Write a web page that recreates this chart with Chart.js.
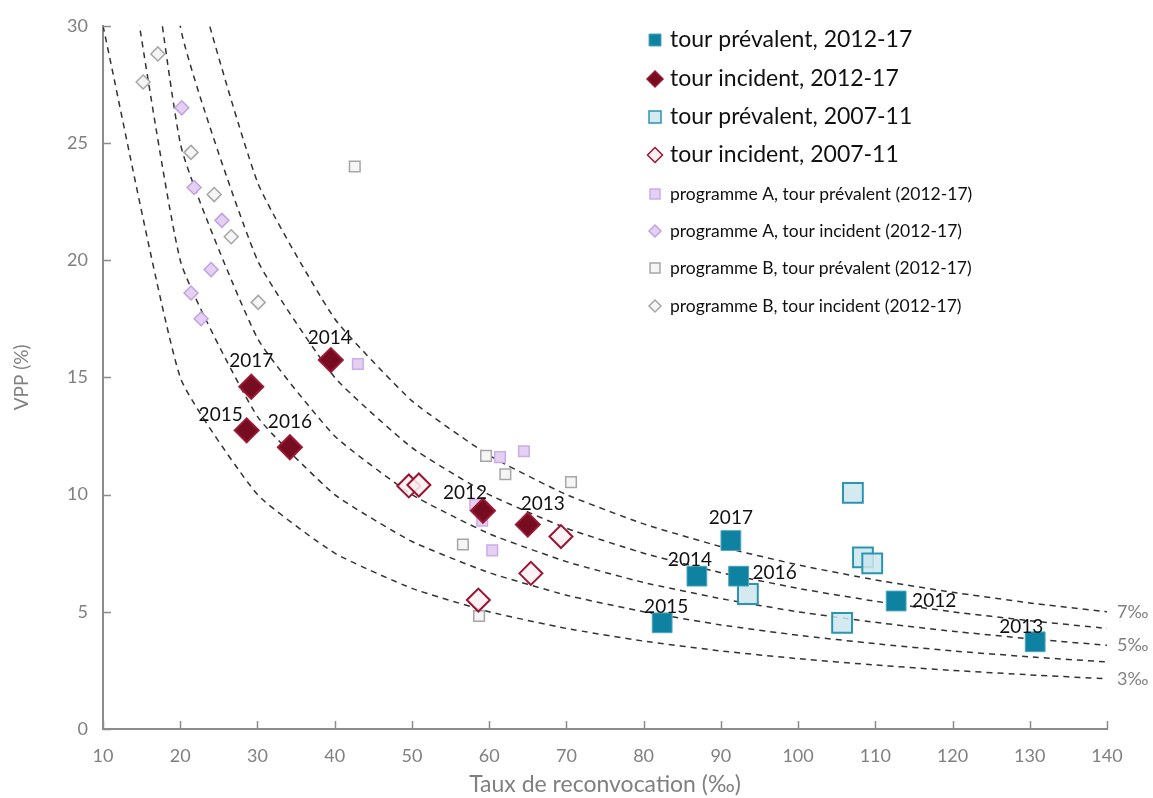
<!DOCTYPE html>
<html lang="fr">
<head>
<meta charset="UTF-8">
<title>VPP et taux de reconvocation</title>
<script src="https://cdn.jsdelivr.net/npm/chart.js"></script>
<style>
    html, body { margin: 0; padding: 0; background: #fff; }
    #wrap { width: 1153px; height: 798px; position: relative; }
</style>
</head>
<body>
<div id="wrap"><canvas id="chart" width="1153" height="798"></canvas></div>
<script>
// Années des tours 2012-17
const years = ['2012', '2013', '2014', '2015', '2016', '2017'];

// tour prévalent, 2012-17 (dans l'ordre des années)
const prev1217X = [112.7, 130.7, 86.9, 82.4, 92.3, 91.3];
const prev1217Y = [5.46, 3.72, 6.52, 4.53, 6.52, 8.04];
// tour incident, 2012-17
const inc1217X = [59.2, 65.0, 39.5, 28.6, 34.2, 29.2];
const inc1217Y = [9.31, 8.72, 15.74, 12.74, 12.02, 14.6];
// tour prévalent, 2007-11
const prev0711X = [107.1, 108.4, 109.6, 93.5, 105.7];
const prev0711Y = [10.07, 7.32, 7.07, 5.76, 4.53];
// tour incident, 2007-11
const inc0711X = [49.6, 50.9, 69.3, 65.4, 58.6];
const inc0711Y = [10.37, 10.41, 8.21, 6.64, 5.5];
// programme A
const progAPrevX = [43.0, 61.4, 64.5, 58.2, 59.1, 60.4];
const progAPrevY = [15.57, 11.6, 11.85, 9.56, 8.89, 7.62];
const progAIncX = [20.2, 21.8, 25.4, 24.0, 21.4, 22.7];
const progAIncY = [26.5, 23.1, 21.7, 19.6, 18.6, 17.5];
// programme B
const progBPrevX = [42.6, 59.6, 62.1, 70.6, 56.6, 58.7];
const progBPrevY = [24.0, 11.65, 10.87, 10.53, 7.87, 4.82];
const progBIncX = [17.1, 15.2, 21.4, 24.4, 26.6, 30.1];
const progBIncY = [28.8, 27.6, 24.6, 22.8, 21.0, 18.2];

// Courbes de taux de détection constant (‰)
const isoX = [10, 20, 30, 40, 50, 60, 70, 80, 90, 100, 110, 120, 130, 140];
const iso3 = [30, 15, 10, 7.5, 6, 5, 4.29, 3.75, 3.33, 3, 2.73, 2.5, 2.31, 2.14];
const iso4 = [40, 20, 13.33, 10, 8, 6.67, 5.71, 5, 4.44, 4, 3.64, 3.33, 3.08, 2.86];
const iso5 = [50, 25, 16.67, 12.5, 10, 8.33, 7.14, 6.25, 5.56, 5, 4.55, 4.17, 3.85, 3.57];
const iso6 = [60, 30, 20, 15, 12, 10, 8.57, 7.5, 6.67, 6, 5.45, 5, 4.62, 4.29];
const iso7 = [70, 35, 23.33, 17.5, 14, 11.67, 10, 8.75, 7.78, 7, 6.36, 5.83, 5.38, 5];
const isoNames = ['3‰', '4‰', '5‰', '6‰', '7‰'];
const isoShown = ['3‰', '5‰', '7‰'];

// Décalage des étiquettes d'années (px), même ordre que years
const prevLabelOffsets = [[38, 0], [-14, -15], [-7, -16], [4, -16], [36, -3], [0, -23]];
const incLabelOffsets = [[-18, -18], [15, -21], [-1, -22], [-26, -15], [0, -25], [0, -26]];

function pts(xs, ys) {
    return xs.map((x, i) => ({ x: x, y: ys[i] }));
}

const gray = '#808080';
Chart.defaults.font.family = 'Lato';

const datasets = [
    { label: 'tour prévalent, 2012-17', data: pts(prev1217X, prev1217Y), pointStyle: 'rect', pointRadius: 14,
      backgroundColor: '#0F82A2', borderColor: '#4FA6BE', borderWidth: 1 },
    { label: 'tour incident, 2012-17', data: pts(inc1217X, inc1217Y), pointStyle: 'rectRot', pointRadius: 12,
      backgroundColor: '#760C1F', borderColor: '#9C1833', borderWidth: 2 },
    { label: 'tour prévalent, 2007-11', data: pts(prev0711X, prev0711Y), pointStyle: 'rect', pointRadius: 14,
      backgroundColor: 'rgba(205,230,237,0.85)', borderColor: '#2A95B1', borderWidth: 2 },
    { label: 'tour incident, 2007-11', data: pts(inc0711X, inc0711Y), pointStyle: 'rectRot', pointRadius: 11.5,
      backgroundColor: 'rgba(255,240,243,0.85)', borderColor: '#9A1530', borderWidth: 2 },
    { label: 'programme A, tour prévalent (2012-17)', data: pts(progAPrevX, progAPrevY), pointStyle: 'rect', pointRadius: 7.5,
      backgroundColor: '#E3D0F3', borderColor: '#CBADE8', borderWidth: 1.5 },
    { label: 'programme A, tour incident (2012-17)', data: pts(progAIncX, progAIncY), pointStyle: 'rectRot', pointRadius: 7,
      backgroundColor: '#E3D0F3', borderColor: '#C2A2E0', borderWidth: 1.5 },
    { label: 'programme B, tour prévalent (2012-17)', data: pts(progBPrevX, progBPrevY), pointStyle: 'rect', pointRadius: 7.5,
      backgroundColor: '#F5F5F5', borderColor: '#A6A6A6', borderWidth: 1.5 },
    { label: 'programme B, tour incident (2012-17)', data: pts(progBIncX, progBIncY), pointStyle: 'rectRot', pointRadius: 7,
      backgroundColor: '#F5F5F5', borderColor: '#A6A6A6', borderWidth: 1.5 }
];
[iso3, iso4, iso5, iso6, iso7].forEach((ys, k) => {
    datasets.push({
        label: isoNames[k], iso: true, data: pts(isoX, ys), showLine: true,
        pointRadius: 0, borderColor: '#333333', borderWidth: 1.5, borderDash: [6, 5],
        tension: 0.15, capBezierPoints: false, fill: false
    });
});

// Légende, étiquettes, petites graduations intérieures
const decorations = {
    id: 'decorations',
    afterDraw(chart) {
        const ctx = chart.ctx;
        const xs = chart.scales.x, ys = chart.scales.y;
        const area = chart.chartArea;
        ctx.save();

        // graduations vers l'intérieur
        ctx.strokeStyle = '#8c8c8c';
        ctx.lineWidth = 1.5;
        ctx.beginPath();
        for (let v = 10; v <= 140; v += 10) {
            const px = Math.round(xs.getPixelForValue(v)) + 0.5;
            ctx.moveTo(px, area.bottom);
            ctx.lineTo(px, area.bottom - 8);
        }
        for (let v = 0; v <= 30; v += 5) {
            const py = Math.round(ys.getPixelForValue(v)) + 0.5;
            ctx.moveTo(area.left, py);
            ctx.lineTo(area.left + 8, py);
        }
        ctx.stroke();

        // étiquettes des années
        ctx.fillStyle = '#111';
        ctx.font = '19px Lato';
        ctx.textAlign = 'center';
        ctx.textBaseline = 'middle';
        const lab = (xArr, yArr, offs) => {
            xArr.forEach((x, i) => {
                ctx.fillText(years[i], xs.getPixelForValue(x) + offs[i][0], ys.getPixelForValue(yArr[i]) + offs[i][1]);
            });
        };
        lab(prev1217X, prev1217Y, prevLabelOffsets);
        lab(inc1217X, inc1217Y, incLabelOffsets);

        // étiquettes des courbes
        ctx.fillStyle = gray;
        ctx.font = '18px Lato';
        ctx.textAlign = 'left';
        chart.data.datasets.forEach(ds => {
            if (ds.iso && isoShown.includes(ds.label)) {
                const last = ds.data[ds.data.length - 1];
                ctx.fillText(ds.label, xs.getPixelForValue(last.x) + 10, ys.getPixelForValue(last.y));
            }
        });

        // légende
        const rows = [
            { y: 40, size: 12, font: 23 }, { y: 79, size: 8, font: 23 },
            { y: 117, size: 12, font: 23 }, { y: 155, size: 7.5, font: 23 },
            { y: 194, size: 10, font: 17.5 }, { y: 231, size: 6, font: 17.5 },
            { y: 268, size: 10, font: 17.5 }, { y: 306, size: 6, font: 17.5 }
        ];
        rows.forEach((r, i) => {
            const ds = chart.data.datasets[i];
            const cx = 655;
            ctx.fillStyle = ds.backgroundColor;
            ctx.strokeStyle = ds.borderColor;
            ctx.lineWidth = Math.min(ds.borderWidth, 1.5);
            ctx.beginPath();
            if (ds.pointStyle === 'rect') {
                ctx.rect(cx - r.size / 2, r.y - r.size / 2, r.size, r.size);
            } else {
                ctx.moveTo(cx, r.y - r.size);
                ctx.lineTo(cx + r.size, r.y);
                ctx.lineTo(cx, r.y + r.size);
                ctx.lineTo(cx - r.size, r.y);
                ctx.closePath();
            }
            ctx.fill();
            ctx.stroke();
            ctx.fillStyle = '#111';
            ctx.font = r.font + 'px Lato';
            ctx.fillText(ds.label, 670, r.y);
        });
        ctx.restore();
    }
};

new Chart(document.getElementById('chart'), {
    type: 'scatter',
    data: { datasets: datasets },
    options: {
        responsive: false,
        animation: false,
        layout: { padding: { top: 20, right: 46, left: 0, bottom: 0 } },
        plugins: { legend: { display: false }, tooltip: { enabled: false } },
        scales: {
            x: {
                type: 'linear', min: 10, max: 140,
                ticks: { stepSize: 10, color: gray, font: { size: 18 }, padding: 16 },
                grid: { drawOnChartArea: false, drawTicks: false },
                border: { display: true, color: '#8c8c8c', width: 2 },
                title: { display: true, text: 'Taux de reconvocation (‰)', color: gray, font: { size: 23 }, padding: 0 },
                afterFit(scale) { scale.height = 69; }
            },
            y: {
                min: 0, max: 30,
                ticks: { stepSize: 5, color: gray, font: { size: 18 }, padding: 15 },
                grid: { drawOnChartArea: false, drawTicks: false },
                border: { display: true, color: '#8c8c8c', width: 2 },
                title: { display: true, text: 'VPP (%)', color: gray, font: { size: 19 }, padding: { top: 10, bottom: 0 } },
                afterFit(scale) { scale.width = 103; }
            }
        }
    },
    plugins: [decorations]
});
</script>
</body>
</html>
